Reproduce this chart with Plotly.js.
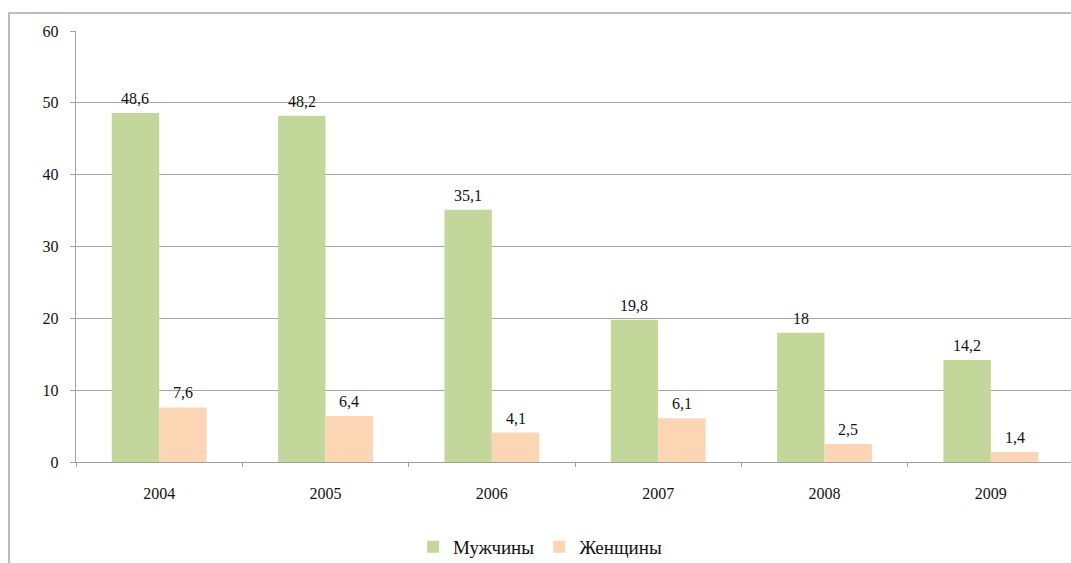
<!DOCTYPE html>
<html>
<head>
<meta charset="utf-8">
<script src="https://cdn.plot.ly/plotly-3.0.1.min.js"></script>
<style>
  html, body { margin: 0; padding: 0; background: #ffffff; overflow: hidden; }
  #chart { width: 1080px; height: 563px; }
</style>
</head>
<body>
<div id="chart"></div>
<script>
// Years on the category axis
const years = ['2004', '2005', '2006', '2007', '2008', '2009'];

// Series values
const men = [48.6, 48.2, 35.1, 19.8, 18, 14.2];
const women = [7.6, 6.4, 4.1, 6.1, 2.5, 1.4];

const seriesNames = ['Мужчины', 'Женщины'];
const yTicks = [0, 10, 20, 30, 40, 50, 60];

const green = '#c4d79b';
const peach = '#fcd5b4';
const serif = 'Liberation Serif, Times New Roman, serif';

// Decimal comma for the value labels
const fmt = v => String(v).replace('.', ',');

const traces = [
  { type: 'bar', name: seriesNames[0], x: years, y: men, marker: { color: green }, hoverinfo: 'x+y' },
  { type: 'bar', name: seriesNames[1], x: years, y: women, marker: { color: peach }, hoverinfo: 'x+y' }
];

// Value labels above each bar (x given as the category index)
const annotations = [];
[men, women].forEach((series, si) => {
  series.forEach((v, i) => {
    annotations.push({
      x: i, y: v, xref: 'x', yref: 'y',
      text: fmt(v), showarrow: false,
      xshift: si === 0 ? -23.8 : 23.8, yshift: 4,
      yanchor: 'bottom',
      font: { family: serif, size: 16, color: '#111111' }
    });
  });
});

const layout = {
  width: 1080, height: 563,
  margin: { l: 76, r: 6, t: 31, b: 101, autoexpand: false },
  paper_bgcolor: '#ffffff', plot_bgcolor: '#ffffff',
  barmode: 'group', bargap: 0.43, bargroupgap: 0,
  font: { family: serif, size: 16, color: '#111111' },
  xaxis: {
    type: 'category',
    range: [-0.5, years.length - 0.5],
    showgrid: false,
    showline: true, linecolor: '#a0a0a0', linewidth: 1.3,
    ticks: 'outside', tickson: 'boundaries', ticklen: 4, tickcolor: '#a0a0a0',
    ticklabelstandoff: 16,
    tickangle: 0,
    tickfont: { family: serif, size: 16, color: '#111111' },
    zeroline: false
  },
  yaxis: {
    range: [0, 60],
    tickvals: yTicks,
    ticktext: yTicks.map(String),
    showgrid: true, gridcolor: '#a6a6a6', gridwidth: 1,
    showline: true, linecolor: '#a0a0a0', linewidth: 1.3,
    ticks: 'outside', ticklen: 5, tickcolor: '#a0a0a0',
    ticklabelstandoff: 8,
    tickfont: { family: serif, size: 16, color: '#111111' },
    zeroline: false
  },
  legend: {
    orientation: 'h',
    x: 0.465, xanchor: 'center',
    y: -0.197, yanchor: 'middle',
    itemwidth: 30,
    font: { family: serif, size: 19, color: '#111111' },
    bgcolor: 'rgba(0,0,0,0)'
  },
  shapes: [{
    type: 'rect', xref: 'paper', yref: 'paper',
    x0: -0.0671, x1: 1.2, y0: -0.4, y1: 1.0418,
    line: { color: '#a6a6a6', width: 1.5 },
    layer: 'below'
  }],
  annotations: annotations,
  showlegend: true
};

Plotly.newPlot('chart', traces, layout, { displayModeBar: false, staticPlot: true });
</script>
</body>
</html>
